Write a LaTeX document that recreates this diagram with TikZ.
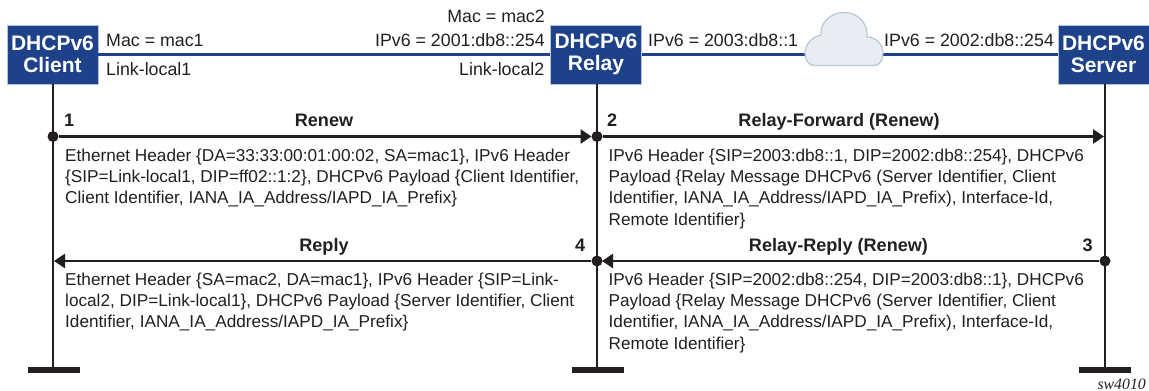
\documentclass[tikz,border=0pt]{standalone}
\usepackage{fontspec}
\setmainfont{Liberation Sans}
\newfontfamily\serifit{Liberation Serif}
\definecolor{nblue}{HTML}{1D4289}
\definecolor{nedge}{HTML}{B4C3DC}
\definecolor{ink}{HTML}{231F20}
\definecolor{cloudfill}{HTML}{E8EDF3}
\definecolor{cloudedge}{HTML}{B9C6D6}
\usetikzlibrary{arrows.meta}
\tikzset{
  box/.style={fill=nblue,draw=nedge,line width=0.5pt,text=white,inner sep=0pt,align=center,font=\fontsize{21}{22.5}\selectfont\bfseries},
  link/.style={draw=nedge,line width=3.6pt},
  linkcore/.style={draw=nblue,line width=2.2pt},
  life/.style={draw=ink,line width=2.6pt},
  foot/.style={fill=ink,inner sep=0pt,minimum width=52pt,minimum height=6pt},
  dot/.style={circle,fill=ink,inner sep=0pt,minimum size=11pt},
  msg/.style={draw=ink,line width=2.7pt,-{Triangle[length=11pt,width=14pt]}},
  lab/.style={inner sep=0pt,text=ink,font=\fontsize{17.8}{21}\selectfont},
  num/.style={inner sep=0pt,text=ink,font=\fontsize{18.1}{21}\selectfont\bfseries},
  body/.style={inner sep=0pt,text=ink,anchor=north west,align=left,font=\fontsize{17.2}{21.4}\selectfont},
}
\begin{document}
\begin{tikzpicture}[x=1pt,y=-1pt]
\useasboundingbox (0,0) rectangle (1149,391);
% boxes
\node[box,minimum width=91pt,minimum height=59pt] (client) at (52.5,54.5) {DHCPv6\\Client};
\node[box,minimum width=91pt,minimum height=59pt] (relay) at (596,54.5) {DHCPv6\\Relay};
\node[box,minimum width=91pt,minimum height=59pt] (server) at (1103.5,54.5) {DHCPv6\\Server};
% cloud anchor
\coordinate (cl) at (806,54.5);
\coordinate (cr) at (882,54.5);
% links
\draw[link] (client.east) -- (relay.west);
\draw[linkcore] (client.east) -- (relay.west);
\draw[link] (relay.east) -- (cl);
\draw[linkcore] (relay.east) -- (cl);
\draw[link] (cr) -- (server.west);
\draw[linkcore] (cr) -- (server.west);
% cloud
\draw[fill=cloudfill,draw=cloudedge,line width=1.2pt]
  (814,65.5) .. controls (808,65.5) and (805,59) .. (805,53)
  .. controls (805,44) and (812,37) .. (821,35)
  .. controls (820,22) and (831,12.5) .. (844,12.5)
  .. controls (857,12.5) and (868,22) .. (867,37)
  .. controls (876,37) and (883,44) .. (883,53)
  .. controls (883,60) and (880,65.5) .. (874,65.5) -- cycle;
% feet
\node[foot] (fc) at (54,370) {};
\node[foot] (fr) at (597.5,370) {};
\node[foot] (fs) at (1105,370) {};
% lifelines
\draw[life] (53,84) -- (53,367);
\draw[life] (597,84) -- (597,367);
\draw[life] (1105,84) -- (1105,367);
% dots
\node[dot] (d1) at (53,136.5) {};
\node[dot] (d2) at (597,136.5) {};
\node[dot] (d3) at (1105,261) {};
\node[dot] (d4) at (597,261) {};
\coordinate (t1) at (591.5,136.5);
\coordinate (t2) at (1104,136.5);
\coordinate (t3) at (602,261);
\coordinate (t4) at (54,261);
\draw[msg] (d1) -- (t1);
\draw[msg] (d2) -- (t2);
\draw[msg] (d3) -- (t3);
\draw[msg] (d4) -- (t4);
% address labels
\node[lab,anchor=base west] (l1) at (106,46) {Mac = mac1};
\node[lab,anchor=base west] (l2) at (106,75) {Link-local1};
\node[lab,anchor=base east] (l3) at (545,22.5) {Mac = mac2};
\node[lab,anchor=base east] (l4) at (545,46.5) {IPv6 = 2001:db8::254};
\node[lab,anchor=base east] (l5) at (544.5,75) {Link-local2};
\node[lab,anchor=base west] (l6) at (648,46) {IPv6 = 2003:db8::1};
\node[lab,anchor=base west] (l7) at (884,46) {IPv6 = 2002:db8::254};
% message labels
\node[num,anchor=base west] (n1) at (64,126) {1};
\node[num,anchor=base] (m1) at (324,126) {Renew};
\node[num,anchor=base west] (n2) at (607,126) {2};
\node[num,anchor=base] (m2) at (839,126) {Relay-Forward (Renew)};
\node[num,anchor=base] (m3) at (324,251) {Reply};
\node[num,anchor=base west] (n4) at (575,251) {4};
\node[num,anchor=base] (m4) at (838.5,251) {Relay-Reply (Renew)};
\node[num,anchor=base west] (n3) at (1082.5,251) {3};
% bodies
\node[body] (b1) at (65,148.5) {Ethernet Header \{DA=33:33:00:01:00:02, SA=mac1\}, IPv6 Header\\\{SIP=Link-local1, DIP=ff02::1:2\}, DHCPv6 Payload \{Client Identifier,\\Client Identifier, IANA\_IA\_Address/IAPD\_IA\_Prefix\}};
\node[body] (b2) at (608.5,148.5) {IPv6 Header \{SIP=2003:db8::1, DIP=2002:db8::254\}, DHCPv6\\Payload \{Relay Message DHCPv6 (Server Identifier, Client\\Identifier, IANA\_IA\_Address/IAPD\_IA\_Prefix), Interface-Id,\\Remote Identifier\}};
\node[body] (b3) at (65,272.5) {Ethernet Header \{SA=mac2, DA=mac1\}, IPv6 Header \{SIP=Link-\\local2, DIP=Link-local1\}, DHCPv6 Payload \{Server Identifier, Client\\Identifier, IANA\_IA\_Address/IAPD\_IA\_Prefix\}};
\node[body] (b4) at (608.5,272.5) {IPv6 Header \{SIP=2002:db8::254, DIP=2003:db8::1\}, DHCPv6\\Payload \{Relay Message DHCPv6 (Server Identifier, Client\\Identifier, IANA\_IA\_Address/IAPD\_IA\_Prefix), Interface-Id,\\Remote Identifier\}};
\node[inner sep=0pt,text=ink,anchor=base east,font=\fontsize{15.8}{16}\serifit\itshape] (tag) at (1146,389.5) {sw4010};
\end{tikzpicture}
\end{document}
